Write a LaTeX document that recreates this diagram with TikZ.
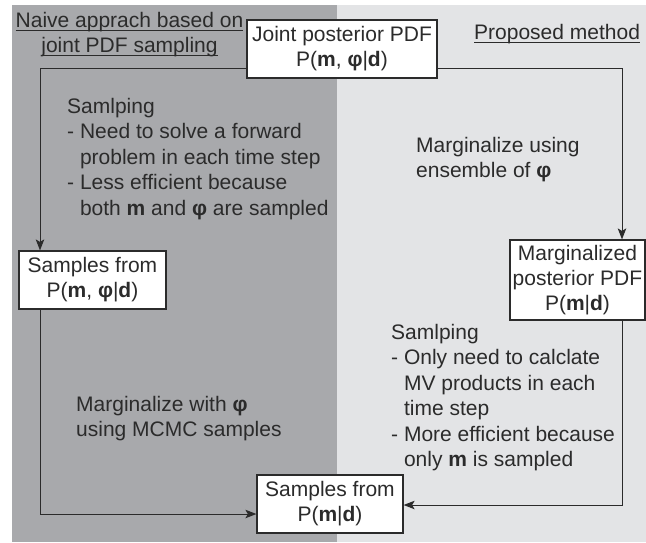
\documentclass[tikz,border=0pt]{standalone}
\usepackage{fontspec}
\setmainfont{Liberation Sans}
\usetikzlibrary{arrows.meta,calc}
\definecolor{naivegray}{HTML}{A8A9AC}
\definecolor{propgray}{HTML}{E3E4E6}
\definecolor{inkgray}{HTML}{2B2B2B}
\newsavebox\ulbox
\newcommand{\uln}[1]{\sbox\ulbox{#1}\rlap{\rule[-3.5pt]{\wd\ulbox}{1pt}}\usebox\ulbox}

\begin{document}
\begin{tikzpicture}[x=1pt,y=-1pt,
	box/.style={draw=inkgray, line width=1.2pt, fill=white, align=center, inner sep=0pt, text=inkgray, font=\fontsize{21}{25}\selectfont},
	note/.style={anchor=north west, align=left, inner sep=0pt, text=inkgray, font=\fontsize{21}{25.5}\selectfont},
	flow/.style={draw=inkgray, line width=1pt, -{Stealth[length=11pt,width=8.5pt,inset=2.5pt]}}]
	
	\useasboundingbox (0,0) rectangle (646,542);
	\fill[naivegray] (12,5) rectangle (337,542);
	\fill[propgray] (337,5) rectangle (646,542);
	
	\coordinate (lt) at (40,68);
	\coordinate (rt) at (622,68);
	\coordinate (lb) at (40,514);
	\coordinate (rb) at (622,505);
	
	\node[box, minimum width=190, minimum height=58] (joint) at (342,49) {Joint posterior PDF\\P(\textbf{m}, \textbf{φ}|\textbf{d})};
	\node[box, minimum width=147, minimum height=58] (sampjoint) at (92.5,280) {Samples from\\P(\textbf{m}, \textbf{φ}|\textbf{d})};
	\node[box, minimum width=135, minimum height=80] (marg) at (577.5,280) {Marginalized\\posterior PDF\\P(\textbf{m}|\textbf{d})};
	\node[box, minimum width=146, minimum height=58] (sampmarg) at (330,504) {Samples from\\P(\textbf{m}|\textbf{d})};
	
	\draw[flow] (joint.west |- lt) -| (sampjoint.north -| lt);
	\draw[flow] (joint.east |- rt) -| (marg.north -| rt);
	\draw[flow] (sampjoint.south -| lb) |- (sampmarg.west |- lb);
	\draw[flow] (marg.south -| rb) |- (sampmarg.east |- rb);
	
	\node[note, anchor=north, align=center] (naivehead) at (129.5,12) {\uln{Naive apprach based on}\\\uln{joint PDF sampling}};
	\node[note] (prophead) at (474,24) {\uln{Proposed method}};
	
	\node[note] (naivesamp) at (67,98) {Samlping\\- Need to solve a forward\\\phantom{- }problem in each time step\\- Less efficient because\\\phantom{- }both \textbf{m} and \textbf{φ} are sampled};
	\node[note] (margens) at (416,137) {Marginalize using\\ensemble of \textbf{φ}};
	\node[note] (margmcmc) at (76,396) {Marginalize with \textbf{φ}\\using MCMC samples};
	\node[note] (propsamp) at (391,324) {Samlping\\- Only need to calclate\\\phantom{- }MV products in each\\\phantom{- }time step\\- More efficient because\\\phantom{- }only \textbf{m} is sampled};
	
\end{tikzpicture}
\end{document}
